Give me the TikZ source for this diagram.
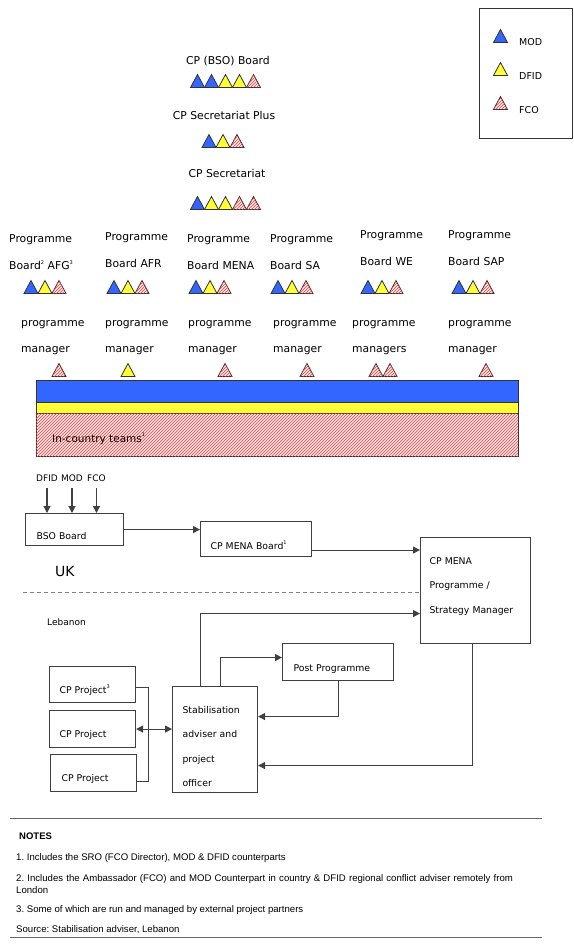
\documentclass[tikz,border=0pt]{standalone}
\usepackage{fontspec}
\setmainfont{DejaVu Sans}
\newfontfamily\notefont{Liberation Sans}
\usetikzlibrary{arrows.meta,patterns}
\frenchspacing

\definecolor{modblue}{RGB}{51,102,255}
\definecolor{dfidyellow}{RGB}{255,255,51}
\definecolor{fcored}{RGB}{235,70,70}
\definecolor{fcopink}{RGB}{255,228,228}

% small footnote numbers
\newcommand{\fnum}[1]{\raisebox{0.5em}{\fontsize{5}{6}\selectfont #1}}

\tikzset{
  mod/.style={fill=modblue},
  dfid/.style={fill=dfidyellow},
  fco/.style={fill=fcopink,postaction={pattern=north east lines,pattern color=fcored}},
  pics/tri/.style={code={\draw[black!80,line width=0.8pt,#1] (-7,6.5) -- (0,-6.5) -- (7,6.5) -- cycle;}},
  ttl/.style={anchor=base,inner sep=0pt,font=\fontsize{10.8}{13}\selectfont},
  lbl/.style={anchor=base west,inner sep=0pt,text width=90pt,align=left,font=\fontsize{10.8}{27.5}\selectfont},
  mgr/.style={lbl,font=\fontsize{10.8}{26}\selectfont},
  txt/.style={anchor=base west,inner sep=0pt,font=\fontsize{9.5}{11}\selectfont},
  box/.style={draw=black!75,line width=1.1pt,anchor=north west,inner ysep=0pt,align=left,
    font=\fontsize{9.3}{24.6}\selectfont},
  conn/.style={draw=black!75,line width=1.1pt},
  arr/.style={conn,-{Triangle[length=7pt,width=7pt]}},
  borderline/.style={draw=black!50,line width=0.9pt,dash pattern=on 4pt off 3pt},
  note/.style={anchor=base west,inner sep=0pt,font=\notefont\fontsize{9.6}{11.5}\selectfont\frenchspacing},
}

\begin{document}
\begin{tikzpicture}[x=1pt,y=-1pt]
\useasboundingbox (0,0) rectangle (573,944);

% legend
\draw[black!80,line width=0.8pt] (479,8) rectangle (572,138);
\pic at (500.5,36) {tri=mod};
\pic at (500.5,69) {tri=dfid};
\pic at (500.5,103) {tri=fco};
\node[txt] (lgmod) at (519,45.5) {MOD};
\node[txt] (lgdfid) at (519,79.5) {DFID};
\node[txt] (lgfco) at (519,113.5) {FCO};

% boards at the top
\node[ttl] (bsoboard) at (228,65) {CP (BSO) Board};
\foreach \c [count=\i] in {mod,mod,dfid,dfid,fco} \pic at ({183.5+14*\i},81) {tri=\c};
\node[ttl] (secplus) at (224,120) {CP Secretariat Plus};
\foreach \c [count=\i] in {mod,dfid,fco} \pic at ({195+14*\i},141) {tri=\c};
\node[ttl] (sec) at (227,178) {CP Secretariat};
\foreach \c [count=\i] in {mod,dfid,dfid,fco,fco} \pic at ({183.5+14*\i},203) {tri=\c};

% programme boards
\node[lbl] (pbafg) at (9,242) {Programme\\Board\fnum{2} AFG\fnum{3}};
\node[lbl] (pbafr) at (105,240) {Programme\\Board AFR};
\node[lbl] (pbmena) at (187,242) {Programme\\Board MENA};
\node[lbl] (pbsa) at (270,242) {Programme\\Board SA};
\node[lbl] (pbwe) at (360,238) {Programme\\Board WE};
\node[lbl] (pbsap) at (448,238) {Programme\\Board SAP};
\foreach \x in {24,107,189,271,361,452} {
  \pic at ({\x+7},287) {tri=mod};
  \pic at ({\x+21},287) {tri=dfid};
  \pic at ({\x+35},287) {tri=fco};
}

% programme managers
\node[mgr] (pmafg) at (21,326) {programme\\manager};
\node[mgr] (pmafr) at (105,326) {programme\\manager};
\node[mgr] (pmmena) at (188,326) {programme\\manager};
\node[mgr] (pmsa) at (273,326) {programme\\manager};
\node[mgr] (pmwe) at (352,326) {programme\\managers};
\node[mgr] (pmsap) at (448,326) {programme\\manager};
\pic at (59,370) {tri=fco};
\pic at (128,370) {tri=dfid};
\pic at (225,370) {tri=fco};
\pic at (307,370) {tri=fco};
\pic at (376,370) {tri=fco};
\pic at (390,370) {tri=fco};
\pic at (486,370) {tri=fco};

% in-country band
\draw[black!80,line width=0.8pt,mod] (36,380) rectangle (518,402);
\draw[black!80,line width=0.8pt,dfid] (36,402) rectangle (518,413);
\draw[black!80,line width=0.8pt,fco] (36,413) rectangle (518,456);
\node[anchor=base west,inner sep=0pt,font=\fontsize{10.5}{12}\selectfont] (teams) at (52,442) {In-country teams\fnum{1}};

% UK / Lebanon chart
\node[anchor=base,inner sep=0pt,font=\fontsize{9}{11}\selectfont] (dfidsrc) at (47,481.5) {DFID};
\node[anchor=base,inner sep=0pt,font=\fontsize{9}{11}\selectfont] (modsrc) at (72,481.5) {MOD};
\node[anchor=base,inner sep=0pt,font=\fontsize{9}{11}\selectfont] (fcosrc) at (96.5,481.5) {FCO};

\node[box,inner xsep=11pt,text width=76pt,text height=25.5pt,text depth=6.5pt] (bso) at (25,513) {BSO Board};
\node[box,inner xsep=10pt,text width=91pt,text height=27.5pt,text depth=7.5pt] (mboard) at (200,521) {CP MENA Board\fnum{1}};
\node[box,inner xsep=9pt,text width=92pt,text height=26.5pt,text depth=79.5pt] (psm) at (420,537) {CP MENA\\Programme /\\Strategy Manager};
\node[box,inner xsep=11pt,text width=89pt,text height=27.5pt,text depth=9.5pt] (post) at (282,643) {Post Programme};
\node[box,inner xsep=10pt,text width=65pt,text height=26.5pt,text depth=79.5pt] (stab) at (172,686) {Stabilisation\\adviser and\\project\\officer};
\node[box,inner xsep=10pt,text width=66pt,text height=26.5pt,text depth=9.5pt] (proja) at (49,666) {CP Project\fnum{3}};
\node[box,inner xsep=10pt,text width=66pt,text height=26.5pt,text depth=10.5pt] (projb) at (49,710) {CP Project};
\node[box,inner xsep=11pt,text width=64pt,text height=26.5pt,text depth=10.5pt] (projc) at (50,754) {CP Project};

\node[anchor=base west,inner sep=0pt,font=\fontsize{14}{16}\selectfont] (uk) at (55,576) {UK};
\node[anchor=base west,inner sep=0pt,font=\fontsize{9}{11}\selectfont] (leb) at (47,625) {Lebanon};
\coordinate (ukleb) at (23,592);
\draw[borderline] (ukleb) -- (ukleb -| psm.west);

\foreach \s in {dfidsrc,modsrc,fcosrc} \draw[arr,shorten <=6pt] (\s.south) -- (\s.south |- bso.north);
\draw[arr] (bso.east) -- (bso.east -| mboard.west);
\draw[arr] ([yshift=-11pt]mboard.east) coordinate (mbo) -- (mbo -| psm.west);
\draw[arr] ([xshift=-14.5pt]stab.north) |- ([yshift=-23pt]psm.west);
\draw[arr] ([xshift=5.5pt]stab.north) |- ([yshift=4.5pt]post.west);
\draw[arr] (post.south) |- ([yshift=23pt]stab.east);
\draw[arr] ([xshift=-3pt]psm.south) |- ([yshift=-26pt]stab.east);
\draw[conn] ([yshift=-3pt]proja.east) -- ++(12,0) |- ([yshift=-8.5pt]projc.east);
\draw[conn,{Triangle[length=7pt,width=7pt]}-{Triangle[length=7pt,width=7pt]}] (projb.east) -- (projb.east -| stab.west);

% notes
\draw[black!60,line width=1pt] (10,818) -- (542,818);
\node[note,font=\notefont\bfseries\fontsize{9.5}{11}\selectfont] (notes) at (19,839.5) {NOTES};
\node[note] (note1) at (16,860.5) {1. Includes the SRO (FCO Director), MOD \& DFID counterparts};
\node[note,text width=530pt,align=left] (note2) at (16,881.5) {2. Includes the Ambassador (FCO) and MOD Counterpart in country \& DFID regional conflict adviser remotely from\\London};
\node[note] (note3) at (16,912) {3. Some of which are run and managed by external project partners};
\node[note] (source) at (16,932.5) {Source: Stabilisation adviser, Lebanon};
\draw[black!60,line width=1pt] (10,937) -- (542,937);
\end{tikzpicture}
\end{document}
